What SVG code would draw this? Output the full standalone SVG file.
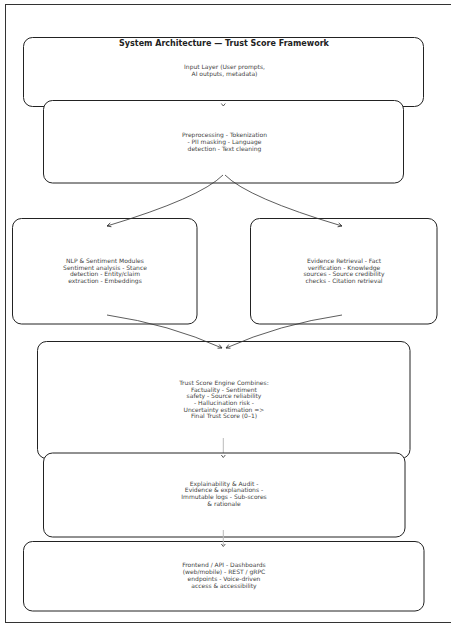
<svg xmlns="http://www.w3.org/2000/svg" width="451" height="624" viewBox="0 0 451 624">
<style>
.box{fill:#fff;stroke:#222;stroke-width:1}
.t{font-family:"DejaVu Sans",sans-serif;font-size:6px;fill:#444;text-anchor:middle}
.title{font-family:"DejaVu Sans",sans-serif;font-size:8px;font-weight:bold;fill:#222;text-anchor:middle}
.edge{fill:none;stroke:#333;stroke-width:0.8}
.stub{fill:none;stroke:#bbb;stroke-width:1}
</style>
<defs>
<marker id="ah" markerUnits="userSpaceOnUse" markerWidth="10" markerHeight="10" viewBox="-6 -5 10 10" refX="0" refY="0" orient="auto">
<path d="M-4,-2 L0,0 L-4,2" fill="none" stroke="#333" stroke-width="0.8"/>
</marker>
</defs>
<rect x="5.5" y="4.5" width="446" height="618" fill="#fff" stroke="#333" stroke-width="1"/>
<g id="input">
<rect class="box" x="23.5" y="37.5" width="400" height="69" rx="9"/>
<text class="title" x="224" y="46.3">System Architecture — Trust Score Framework</text>
<text class="t" x="224.5" y="68.8">Input Layer (User prompts,</text>
<text class="t" x="224.5" y="76">AI outputs, metadata)</text>
</g>
<g id="preprocessing">
<rect class="box" x="43.5" y="100.5" width="360" height="82.5" rx="9"/>
<text class="t" x="224.5" y="137">Preprocessing - Tokenization</text>
<text class="t" x="224.5" y="144">- PII masking - Language</text>
<text class="t" x="224.5" y="151">detection - Text cleaning</text>
</g>
<g id="nlp">
<rect class="box" x="12.5" y="218.5" width="184.5" height="105.5" rx="9"/>
<text class="t" x="105" y="263">NLP &amp; Sentiment Modules</text>
<text class="t" x="105" y="269.7">Sentiment analysis - Stance</text>
<text class="t" x="105" y="276.4">detection - Entity/claim</text>
<text class="t" x="105" y="283.1">extraction - Embeddings</text>
</g>
<g id="evidence">
<rect class="box" x="250.5" y="218.5" width="186.5" height="105.5" rx="9"/>
<text class="t" x="344" y="263">Evidence Retrieval - Fact</text>
<text class="t" x="344" y="269.7">verification - Knowledge</text>
<text class="t" x="344" y="276.4">sources - Source credibility</text>
<text class="t" x="344" y="283.1">checks - Citation retrieval</text>
</g>
<g id="trust">
<rect class="box" x="37.5" y="341.5" width="372.5" height="117" rx="9"/>
<text class="t" x="224" y="384.8">Trust Score Engine Combines:</text>
<text class="t" x="224" y="391.5">Factuality - Sentiment</text>
<text class="t" x="224" y="398.2">safety - Source reliability</text>
<text class="t" x="224" y="404.9">- Hallucination risk -</text>
<text class="t" x="224" y="411.6">Uncertainty estimation =&gt;</text>
<text class="t" x="224" y="418.3">Final Trust Score (0–1)</text>
</g>
<g id="connectors-mid">
<line class="stub" x1="223.3" y1="438" x2="223.3" y2="453"/>
</g>
<g id="explainability">
<rect class="box" x="43.5" y="453" width="361.5" height="84" rx="9"/>
<text class="t" x="224" y="485.5">Explainability &amp; Audit -</text>
<text class="t" x="224" y="492.2">Evidence &amp; explanations -</text>
<text class="t" x="224" y="498.9">Immutable logs - Sub-scores</text>
<text class="t" x="224" y="505.6">&amp; rationale</text>
</g>
<g id="frontend">
<rect class="box" x="23.5" y="541.5" width="400.5" height="69.5" rx="9"/>
<text class="t" x="224" y="567.2">Frontend / API - Dashboards</text>
<text class="t" x="224" y="574.2">(web/mobile) - REST / gRPC</text>
<text class="t" x="224" y="581.2">endpoints - Voice-driven</text>
<text class="t" x="224" y="588.2">access &amp; accessibility</text>
</g>
<g id="connectors">
<line class="stub" x1="223.3" y1="530" x2="223.3" y2="545"/>
<path class="edge" d="M221.3,103.5 L223.3,106 L225.3,103.5"/>
<path class="edge" d="M221.3,455 L223.3,457.5 L225.3,455"/>
<path class="edge" d="M221.3,544 L223.3,546.5 L225.3,544"/>
<path class="edge" d="M223,175 Q200,198 107,226" marker-end="url(#ah)"/>
<path class="edge" d="M225,175 Q248,198 342,226" marker-end="url(#ah)"/>
<path class="edge" d="M107,315 Q169.5,324.4 222,348" marker-end="url(#ah)"/>
<path class="edge" d="M342,315 Q279,324.4 226,348" marker-end="url(#ah)"/>
</g>
</svg>
